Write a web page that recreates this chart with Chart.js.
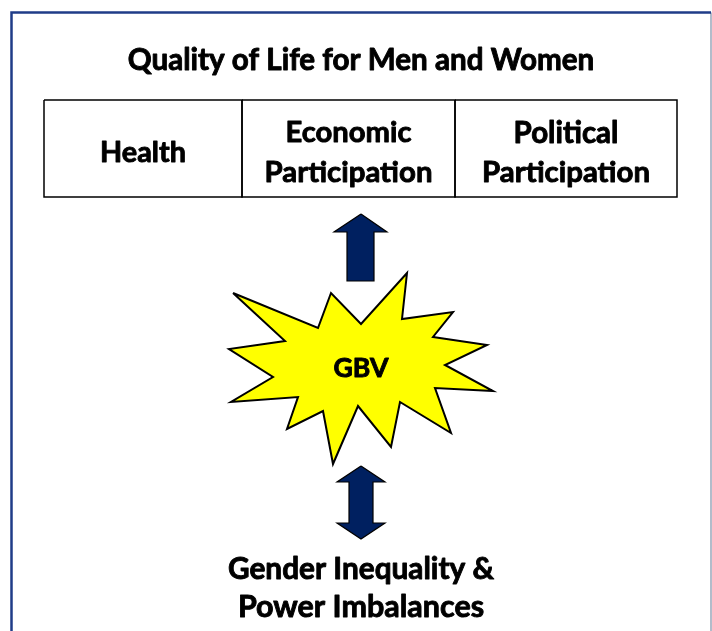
<!DOCTYPE html>
<html>
<head>
<meta charset="utf-8">
<script src="https://cdn.jsdelivr.net/npm/chart.js@4/dist/chart.umd.min.js"></script>
<style>
  html,body{margin:0;padding:0;background:#fff;}
  #wrap{width:712px;height:631px;}
</style>
</head>
<body>
<div id="wrap"><canvas id="diagram" width="712" height="631"></canvas></div>
<script>
// diagram data (page units, 0..712 x 0..631, y down)
const boxCols = [44, 242, 455, 677];
const boxRows = [100, 197];
const boxLabels = [['Health'], ['Economic', 'Participation'], ['Political', 'Participation']];
const starX = [233,318,331,361,407,402,453,433,487,445,493,435,451,400,391,358,333,323,287,298,231,273,229,285];
const starY = [293,328,293,324,273,319,312,337,345,365,391,388,433,402,447,406,464,411,429,397,402,377,349,341];
const upArrowX = [361,387,374,374,347,347,334];
const upArrowY = [214,232,232,281,281,232,232];
const dblArrowX = [361,385,373,373,385,361,337,349,349,337];
const dblArrowY = [466,482,482,523,523,539,523,523,482,482];
const titleText = 'Quality of Life for Men and Women';
const centerText = 'GBV';
const bottomText = ['Gender Inequality &', 'Power Imbalances'];

function pts(xs, ys){ const out = xs.map((x,i)=>({x:x, y:ys[i]})); out.push({x:xs[0], y:ys[0]}); return out; }
function rect(x0,x1,y0,y1){ return pts([x0,x1,x1,x0],[y0,y0,y1,y1]); }

const shapeBase = { showLine:true, pointRadius:0, tension:0, clip:false };
const datasets = [
  // frame
  Object.assign({}, shapeBase, { data:[{x:11.5,y:631},{x:11.5,y:12.5},{x:711,y:12.5}], borderColor:'#1f3c88', borderWidth:2.5, fill:false }),
  Object.assign({}, shapeBase, { data:[{x:711,y:12.5},{x:711,y:631}], borderColor:'#8090a8', borderWidth:1.2, fill:false }),
  // arrows
  Object.assign({}, shapeBase, { data:pts(upArrowX, upArrowY), borderColor:'#000', borderWidth:1.2, backgroundColor:'#002060', fill:'shape' }),
  Object.assign({}, shapeBase, { data:pts(dblArrowX, dblArrowY), borderColor:'#000', borderWidth:1.2, backgroundColor:'#002060', fill:'shape' }),
  // star
  Object.assign({}, shapeBase, { data:pts(starX, starY), borderColor:'#000', borderWidth:2, backgroundColor:'#ffff00', fill:'shape' })
];
// boxes
for(let i=0;i<boxCols.length-1;i++){
  datasets.push(Object.assign({}, shapeBase, { data:rect(boxCols[i], boxCols[i+1], boxRows[0], boxRows[1]), borderColor:'#000', borderWidth:1.5, fill:false }));
}

// draw text at (x,y) fitted to a target width (Calibri-like bold look)
const textPlugin = {
  id:'diagramText',
  afterDatasetsDraw(chart){
    const ctx = chart.ctx, sx = chart.scales.x, sy = chart.scales.y;
    const put = (t, x, y, w) => {
      ctx.font = 'bold 20px Lato, sans-serif';
      const size = 20 * w / ctx.measureText(t).width;
      ctx.font = 'bold ' + size.toFixed(1) + 'px Lato, sans-serif';
      const px = sx.getPixelForValue(x), py = sy.getPixelForValue(y);
      ctx.strokeText(t, px, py);
      ctx.fillText(t, px, py);
    };
    ctx.save();
    ctx.fillStyle = '#000'; ctx.strokeStyle = '#000'; ctx.lineWidth = 0.9; ctx.lineJoin = 'round';
    ctx.textAlign = 'center'; ctx.textBaseline = 'middle';
    put(titleText, 361, 60, 466);
    const bw = [[86], [126, 168], [105, 168]];
    boxLabels.forEach((lines, i) => {
      const cx = (boxCols[i] + boxCols[i+1]) / 2;
      if(lines.length === 1) put(lines[0], cx, 153, bw[i][0]);
      else { put(lines[0], cx, 133, bw[i][0]); put(lines[1], cx, 173, bw[i][1]); }
    });
    put(centerText, 361, 368, 55);
    put(bottomText[0], 361, 569, 266);
    put(bottomText[1], 361, 607, 246);
    ctx.restore();
  }
};

new Chart(document.getElementById('diagram').getContext('2d'), {
  type:'scatter',
  data:{ datasets:datasets },
  options:{
    animation:false, responsive:false, events:[],
    layout:{ padding:0 },
    scales:{
      x:{ type:'linear', min:0, max:712, display:false },
      y:{ type:'linear', min:0, max:631, reverse:true, display:false }
    },
    plugins:{ legend:{ display:false }, tooltip:{ enabled:false } }
  },
  plugins:[textPlugin]
});
</script>
</body>
</html>
